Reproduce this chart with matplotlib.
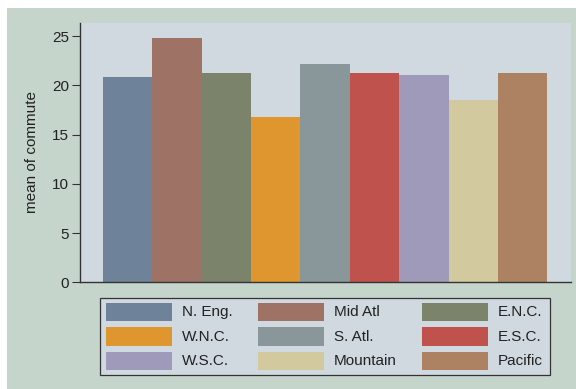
import matplotlib.pyplot as plt
from matplotlib.patches import Rectangle

plt.rcParams['font.family'] = ['Liberation Sans', 'DejaVu Sans']

regions = ['N. Eng.', 'Mid Atl', 'E.N.C.', 'W.N.C.', 'S. Atl.',
           'E.S.C.', 'W.S.C.', 'Mountain', 'Pacific']
commute = [20.84, 24.80, 21.24, 16.78, 22.16, 21.24, 21.01, 18.50, 21.24]
colors = ['#6E8399', '#9E7265', '#7C836B', '#E0962F', '#89979B',
          '#C0524E', '#9F9ABA', '#D2C99E', '#AD8262']
yticks = [0, 5, 10, 15, 20, 25]

W, H = 576, 389
fig = plt.figure(figsize=(W / 100, H / 100), dpi=100)
fig.patch.set_facecolor('white')


def px_rect(x0, y0, x1, y1, **kw):
    # rectangle given in image pixels (y down)
    r = Rectangle((x0 / W, 1 - y1 / H), (x1 - x0) / W, (y1 - y0) / H,
                  transform=fig.transFigure, **kw)
    fig.patches.append(r)
    return r


# green outer region, white strip at top and left
px_rect(7, 8, W + 5, H + 5, facecolor='#C5D5CB', edgecolor='none', zorder=-10)

ax = fig.add_axes([80 / W, 1 - 282.3 / H, (570.7 - 80) / W, (282.3 - 22.7) / H])
ax.set_facecolor('#D0D9DF')

n = len(regions)
ax.bar(range(n), commute, width=1.0, color=colors, edgecolor='none')
ax.set_xlim(-0.5 - 23 / 49.4, n - 0.5 + 23.4 / 49.4)
ax.set_ylim(0, 26.35)
ax.set_yticks(yticks)
ax.set_yticklabels([str(t) for t in yticks], fontsize=11, color='#222222')
ax.set_xticks([])
ax.tick_params(axis='y', length=6, width=0.8, color='#333333', pad=2)
ax.set_ylabel('mean of commute', fontsize=11, color='#222222')
ax.yaxis.set_label_coords((39.5 - 80) / (570.7 - 80), 0.5)

for s in ['top', 'right']:
    ax.spines[s].set_visible(False)
for s in ['left', 'bottom']:
    ax.spines[s].set_color('#333333')
    ax.spines[s].set_linewidth(1.0)

# legend, row-major order like the original
px_rect(100, 298.3, 550, 375, facecolor='#D0D9DF', edgecolor='#333333',
        linewidth=0.9, zorder=1)
swatch_x = [105.7, 258, 421.7]
label_x = [181.7, 334, 497.7]
row_top = [302.7, 327.3, 351.7]
for i, (name, c) in enumerate(zip(regions, colors)):
    r, col = divmod(i, 3)
    x0, y0 = swatch_x[col], row_top[r]
    px_rect(x0, y0, x0 + 66, y0 + 18.7, facecolor=c, edgecolor='none', zorder=2)
    fig.text(label_x[col] / W, 1 - (y0 + 9.6) / H, name, fontsize=11,
             color='#222222', ha='left', va='center', zorder=3)

fig.savefig('out.png', dpi=100)
